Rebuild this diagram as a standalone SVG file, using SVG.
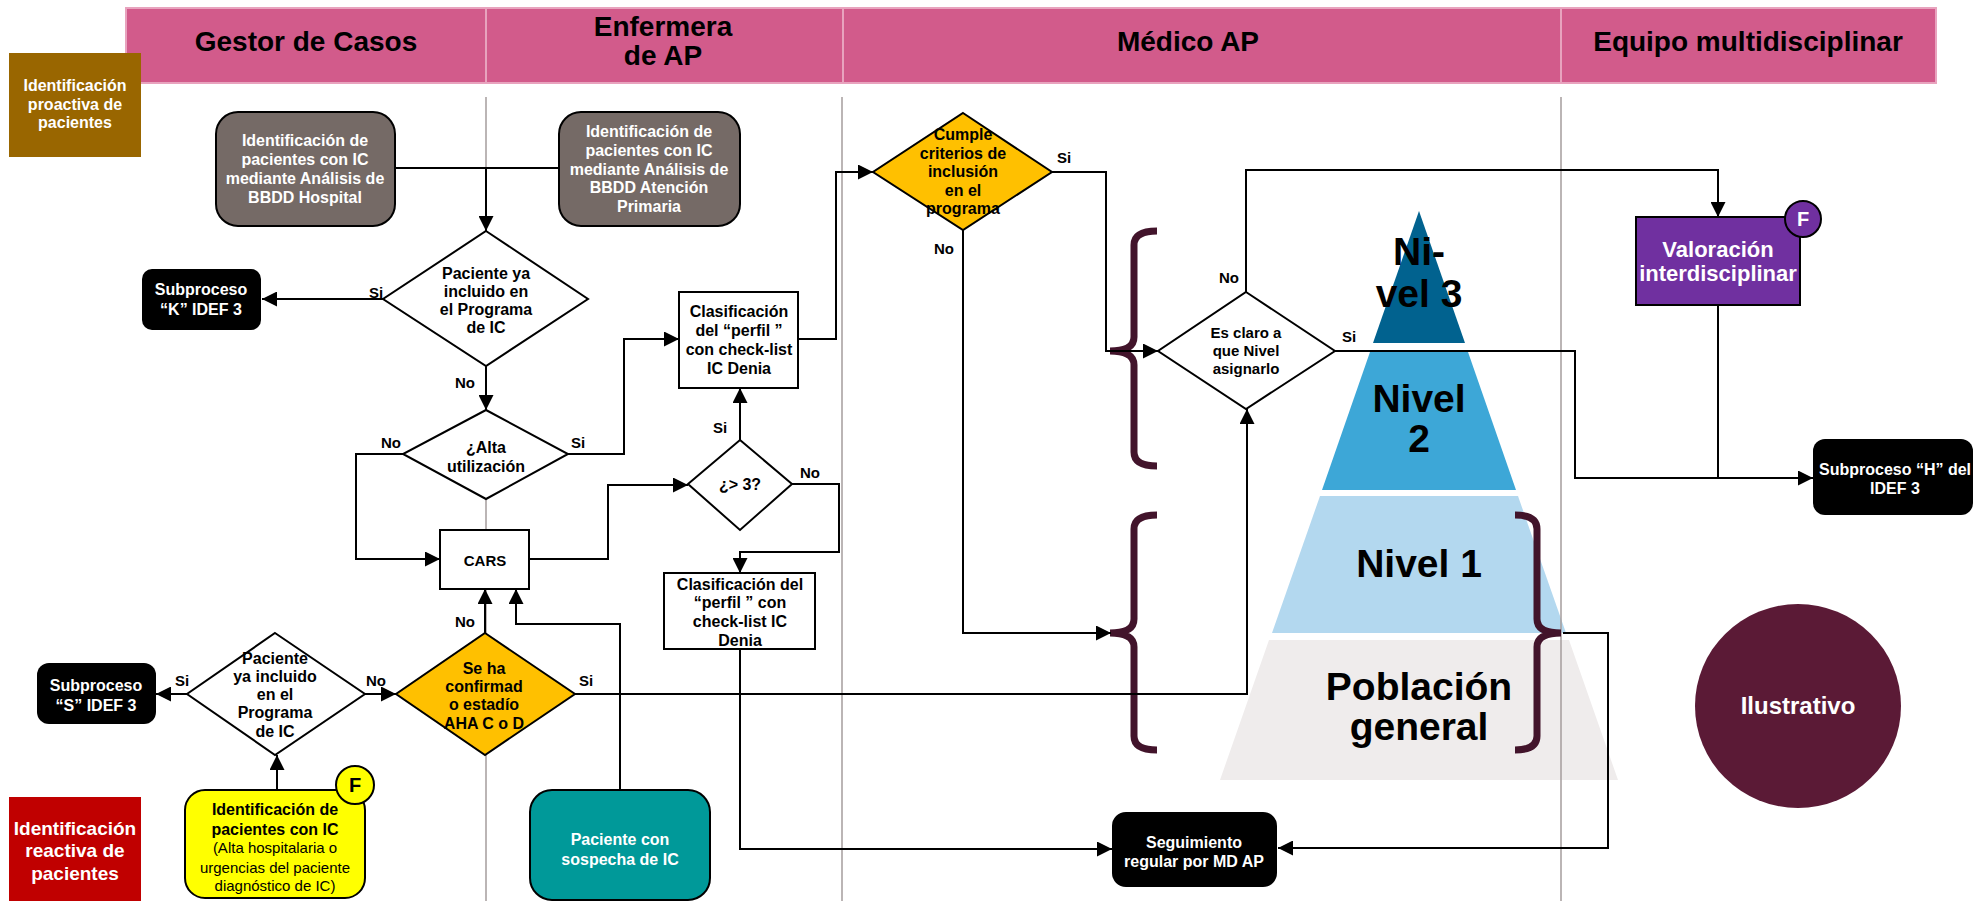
<svg xmlns="http://www.w3.org/2000/svg" width="1974" height="901" viewBox="0 0 1974 901">
  <defs>
    <marker id="arrow" markerUnits="userSpaceOnUse" markerWidth="15" markerHeight="15" viewBox="0 0 10 10" refX="10" refY="5" orient="auto">
      <path d="M0,0 L10,5 L0,10 z" fill="#000"/>
    </marker>
    <style>
      text { font-family: "Liberation Sans", Arial, sans-serif; font-weight: bold; text-anchor: middle; }
      .hdr { font-size: 28px; fill: #000; }
      .t16 { font-size: 16px; fill: #000; }
      .w16 { font-size: 16px; fill: #fff; }
      .reg { font-size: 15px; font-weight: normal; fill: #000; }
      .lbl { font-size: 15px; fill: #000; }
      .pyr { font-size: 39px; fill: #000; }
      .lane { stroke: #a59c9c; stroke-width: 1.5; }
      .conn path { fill: none; stroke: #000; stroke-width: 2; }
      .conn path.arr { marker-end: url(#arrow); }
      .box { stroke: #000; stroke-width: 2; }
      .brace { fill: none; stroke: #42142b; stroke-width: 7; }
    </style>
  </defs>

  <rect width="1974" height="901" fill="#fff"/>

  <!-- swimlane header -->
  <g id="header">
    <rect x="126" y="8" width="1810" height="75" fill="#d25b8b" stroke="#e8a3be" stroke-width="2"/>
    <line x1="486" y1="8" x2="486" y2="83" stroke="#e8a3be" stroke-width="2"/>
    <line x1="843" y1="8" x2="843" y2="83" stroke="#e8a3be" stroke-width="2"/>
    <line x1="1561" y1="8" x2="1561" y2="83" stroke="#e8a3be" stroke-width="2"/>
    <text class="hdr" x="306" y="51">Gestor de Casos</text>
    <text class="hdr" x="663" y="36" font-size="27">Enfermera</text>
    <text class="hdr" x="663" y="65" font-size="27">de AP</text>
    <text class="hdr" x="1188" y="51">Médico AP</text>
    <text class="hdr" x="1748" y="51" font-size="27">Equipo multidisciplinar</text>
  </g>

  <!-- level pyramid -->
  <g id="pyramid">
    <polygon points="1419,211 1465,343 1373,343" fill="#01628f"/>
    <polygon points="1370,352 1468,352 1516,490 1322,490" fill="#3da7d7"/>
    <polygon points="1320,496 1518,496 1566,633 1272,633" fill="#b3d8ef"/>
    <polygon points="1269,640 1569,640 1618,780 1220,780" fill="#efecec"/>
    <text class="pyr" x="1419" y="265">Ni-</text>
    <text class="pyr" x="1419" y="307">vel 3</text>
    <text class="pyr" x="1419" y="412">Nivel</text>
    <text class="pyr" x="1419" y="452">2</text>
    <text class="pyr" x="1419" y="577">Nivel 1</text>
    <text class="pyr" x="1419" y="700" font-size="38">Población</text>
    <text class="pyr" x="1419" y="740" font-size="38">general</text>
  </g>

  <!-- lane separators -->
  <g id="lanes">
    <line class="lane" x1="486" y1="97" x2="486" y2="901"/>
    <line class="lane" x1="842" y1="97" x2="842" y2="901"/>
    <line class="lane" x1="1561" y1="97" x2="1561" y2="901"/>
  </g>

  <!-- braces grouping the levels -->
  <g id="braces">
    <path class="brace" d="M1157,231 Q1134,231 1134,245 V337 Q1134,351 1110,351 Q1134,351 1134,365 V452 Q1134,466 1157,466"/>
    <path class="brace" d="M1157,515 Q1134,515 1134,529 V619 Q1134,633 1110,633 Q1134,633 1134,647 V736 Q1134,750 1157,750"/>
    <path class="brace" d="M1515,515 Q1537,515 1537,529 V619 Q1537,633 1561,633 Q1537,633 1537,647 V736 Q1537,750 1515,750"/>
  </g>

  <!-- connectors -->
  <g id="connectors" class="conn">
    <path d="M395,168 H559"/>
    <path class="arr" d="M486,168 V231"/>
    <path class="arr" d="M383,299 H262"/>
    <path class="arr" d="M486,366 V410"/>
    <path class="arr" d="M403,454 H356 V559 H440"/>
    <path class="arr" d="M568,454 H624 V339 H679"/>
    <path class="arr" d="M529,559 H608 V485 H688"/>
    <path class="arr" d="M740,440 V388"/>
    <path class="arr" d="M792,484 H839 V552 H740 V573"/>
    <path class="arr" d="M798,339 H836 V172 H873"/>
    <path class="arr" d="M740,649 V849 H1112"/>
    <path class="arr" d="M1052,172 H1106 V351 H1158"/>
    <path class="arr" d="M963,230 V633 H1111"/>
    <path class="arr" d="M1246,292 V170 H1718 V217"/>
    <path class="arr" d="M1335,351 H1575 V478 H1813"/>
    <path d="M1718,305 V478"/>
    <path class="arr" d="M575,694 H1247 V409"/>
    <path class="arr" d="M1563,633 H1608 V848 H1278"/>
    <path class="arr" d="M187,694 H156"/>
    <path class="arr" d="M365,694 H396"/>
    <path class="arr" d="M277,790 V755"/>
    <path class="arr" d="M485,633 V589"/>
    <path class="arr" d="M620,790 V624 H516 V589"/>
    <text class="lbl" x="376" y="298">Si</text>
    <text class="lbl" x="465" y="388">No</text>
    <text class="lbl" x="391" y="448">No</text>
    <text class="lbl" x="578" y="448">Si</text>
    <text class="lbl" x="720" y="433">Si</text>
    <text class="lbl" x="810" y="478">No</text>
    <text class="lbl" x="1064" y="163">Si</text>
    <text class="lbl" x="944" y="254">No</text>
    <text class="lbl" x="1229" y="283">No</text>
    <text class="lbl" x="1349" y="342">Si</text>
    <text class="lbl" x="182" y="686">Si</text>
    <text class="lbl" x="376" y="686">No</text>
    <text class="lbl" x="465" y="627">No</text>
    <text class="lbl" x="586" y="686">Si</text>
  </g>

  <!-- nodes -->
  <g id="proactiva">
    <rect x="9" y="53" width="132" height="104" fill="#996600"/>
    <text class="w16" x="75" y="91">Identificación</text>
    <text class="w16" x="75" y="110">proactiva de</text>
    <text class="w16" x="75" y="128">pacientes</text>
  </g>

  <g id="reactiva">
    <rect x="9" y="797" width="132" height="104" fill="#c00000"/>
    <text x="75" y="835" font-size="19" fill="#fff">Identificación</text>
    <text x="75" y="857" font-size="19" fill="#fff">reactiva de</text>
    <text x="75" y="880" font-size="19" fill="#fff">pacientes</text>
  </g>

  <g id="bbdd-hospital">
    <rect class="box" x="216" y="112" width="179" height="114" rx="22" fill="#756a66"/>
    <text class="w16" x="305" y="146">Identificación de</text>
    <text class="w16" x="305" y="165">pacientes con IC</text>
    <text class="w16" x="305" y="184">mediante Análisis de</text>
    <text class="w16" x="305" y="203">BBDD Hospital</text>
  </g>

  <g id="bbdd-ap">
    <rect class="box" x="559" y="112" width="181" height="114" rx="22" fill="#756a66"/>
    <text class="w16" x="649" y="137">Identificación de</text>
    <text class="w16" x="649" y="156">pacientes con IC</text>
    <text class="w16" x="649" y="175">mediante Análisis de</text>
    <text class="w16" x="649" y="193">BBDD Atención</text>
    <text class="w16" x="649" y="212">Primaria</text>
  </g>

  <g id="sub-k">
    <rect x="142" y="269" width="119" height="61" rx="10" fill="#000"/>
    <text class="w16" x="201" y="295">Subproceso</text>
    <text class="w16" x="201" y="315">“K” IDEF 3</text>
  </g>

  <g id="ya-incluido-1">
    <polygon class="box" points="486,231 588,299 486,366 383,299" fill="#fff"/>
    <text class="t16" x="486" y="279">Paciente ya</text>
    <text class="t16" x="486" y="297">incluido en</text>
    <text class="t16" x="486" y="315">el Programa</text>
    <text class="t16" x="486" y="333">de IC</text>
  </g>

  <g id="alta-utilizacion">
    <polygon class="box" points="486,410 568,454 486,499 403,454" fill="#fff"/>
    <text class="t16" x="486" y="453">¿Alta</text>
    <text class="t16" x="486" y="472">utilización</text>
  </g>

  <g id="cars">
    <rect class="box" x="440" y="530" width="89" height="59" fill="#fff"/>
    <text x="485" y="566" font-size="15">CARS</text>
  </g>

  <g id="clasificacion-1">
    <rect class="box" x="679" y="292" width="119" height="96" fill="#fff"/>
    <text class="t16" x="739" y="317">Clasificación</text>
    <text class="t16" x="739" y="336">del “perfil ”</text>
    <text class="t16" x="739" y="355">con check-list</text>
    <text class="t16" x="739" y="374">IC Denia</text>
  </g>

  <g id="mayor-3">
    <polygon class="box" points="740,440 792,484 740,530 688,484" fill="#fff"/>
    <text class="t16" x="740" y="490">¿&gt; 3?</text>
  </g>

  <g id="clasificacion-2">
    <rect class="box" x="664" y="573" width="151" height="76" fill="#fff"/>
    <text class="t16" x="740" y="590">Clasificación del</text>
    <text class="t16" x="740" y="608">“perfil ” con</text>
    <text class="t16" x="740" y="627">check-list IC</text>
    <text class="t16" x="740" y="646">Denia</text>
  </g>

  <g id="cumple-criterios">
    <polygon class="box" points="963,113 1052,172 963,230 873,172" fill="#ffc000"/>
    <text class="t16" x="963" y="140">Cumple</text>
    <text class="t16" x="963" y="159">criterios de</text>
    <text class="t16" x="963" y="177">inclusión</text>
    <text class="t16" x="963" y="196">en el</text>
    <text class="t16" x="963" y="214">programa</text>
  </g>

  <g id="es-claro">
    <polygon class="box" points="1246,292 1335,351 1246,409 1158,351" fill="#fff"/>
    <text x="1246" y="338" font-size="15">Es claro a</text>
    <text x="1246" y="356" font-size="15">que Nivel</text>
    <text x="1246" y="374" font-size="15">asignarlo</text>
  </g>

  <g id="valoracion">
    <rect class="box" x="1636" y="217" width="164" height="88" fill="#7030a0"/>
    <text x="1718" y="257" font-size="22" fill="#fff">Valoración</text>
    <text x="1718" y="281" font-size="22" fill="#fff">interdisciplinar</text>
    <circle class="box" cx="1803" cy="219" r="18" fill="#7030a0"/>
    <text x="1803" y="226" font-size="20" fill="#fff">F</text>
  </g>

  <g id="sub-h">
    <rect x="1813" y="439" width="160" height="76" rx="12" fill="#000"/>
    <text class="w16" x="1895" y="475">Subproceso “H” del</text>
    <text class="w16" x="1895" y="494">IDEF 3</text>
  </g>

  <g id="seguimiento">
    <rect x="1112" y="812" width="165" height="75" rx="14" fill="#000"/>
    <text class="w16" x="1194" y="848">Seguimiento</text>
    <text class="w16" x="1194" y="867">regular por MD AP</text>
  </g>

  <g id="ilustrativo">
    <ellipse cx="1798" cy="706" rx="103" ry="102" fill="#5b1a36"/>
    <text x="1798" y="714" font-size="24" fill="#fff">Ilustrativo</text>
  </g>

  <g id="sub-s">
    <rect x="37" y="663" width="119" height="61" rx="12" fill="#000"/>
    <text class="w16" x="96" y="691">Subproceso</text>
    <text class="w16" x="96" y="711">“S” IDEF 3</text>
  </g>

  <g id="ya-incluido-2">
    <polygon class="box" points="275,633 365,694 275,755 187,694" fill="#fff"/>
    <text class="t16" x="275" y="664">Paciente</text>
    <text class="t16" x="275" y="682">ya incluido</text>
    <text class="t16" x="275" y="700">en el</text>
    <text class="t16" x="275" y="718">Programa</text>
    <text class="t16" x="275" y="737">de IC</text>
  </g>

  <g id="identificacion-reactiva">
    <rect class="box" x="185" y="790" width="180" height="108" rx="20" fill="#ffff00"/>
    <text class="t16" x="275" y="815">Identificación de</text>
    <text class="t16" x="275" y="835">pacientes con IC</text>
    <text class="reg" x="275" y="853">(Alta hospitalaria o</text>
    <text class="reg" x="275" y="873">urgencias del paciente</text>
    <text class="reg" x="275" y="891">diagnóstico de IC)</text>
    <circle class="box" cx="355" cy="785" r="19" fill="#ffff00"/>
    <text x="355" y="792" font-size="20" fill="#000">F</text>
  </g>

  <g id="estadio-aha">
    <polygon class="box" points="485,633 575,694 485,755 396,694" fill="#ffc000"/>
    <text class="t16" x="484" y="674">Se ha</text>
    <text class="t16" x="484" y="692">confirmad</text>
    <text class="t16" x="484" y="710">o estadío</text>
    <text class="t16" x="484" y="729">AHA C o D</text>
  </g>

  <g id="sospecha">
    <rect class="box" x="530" y="790" width="180" height="110" rx="22" fill="#009999"/>
    <text class="w16" x="620" y="845">Paciente con</text>
    <text class="w16" x="620" y="865">sospecha de IC</text>
  </g>
</svg>
